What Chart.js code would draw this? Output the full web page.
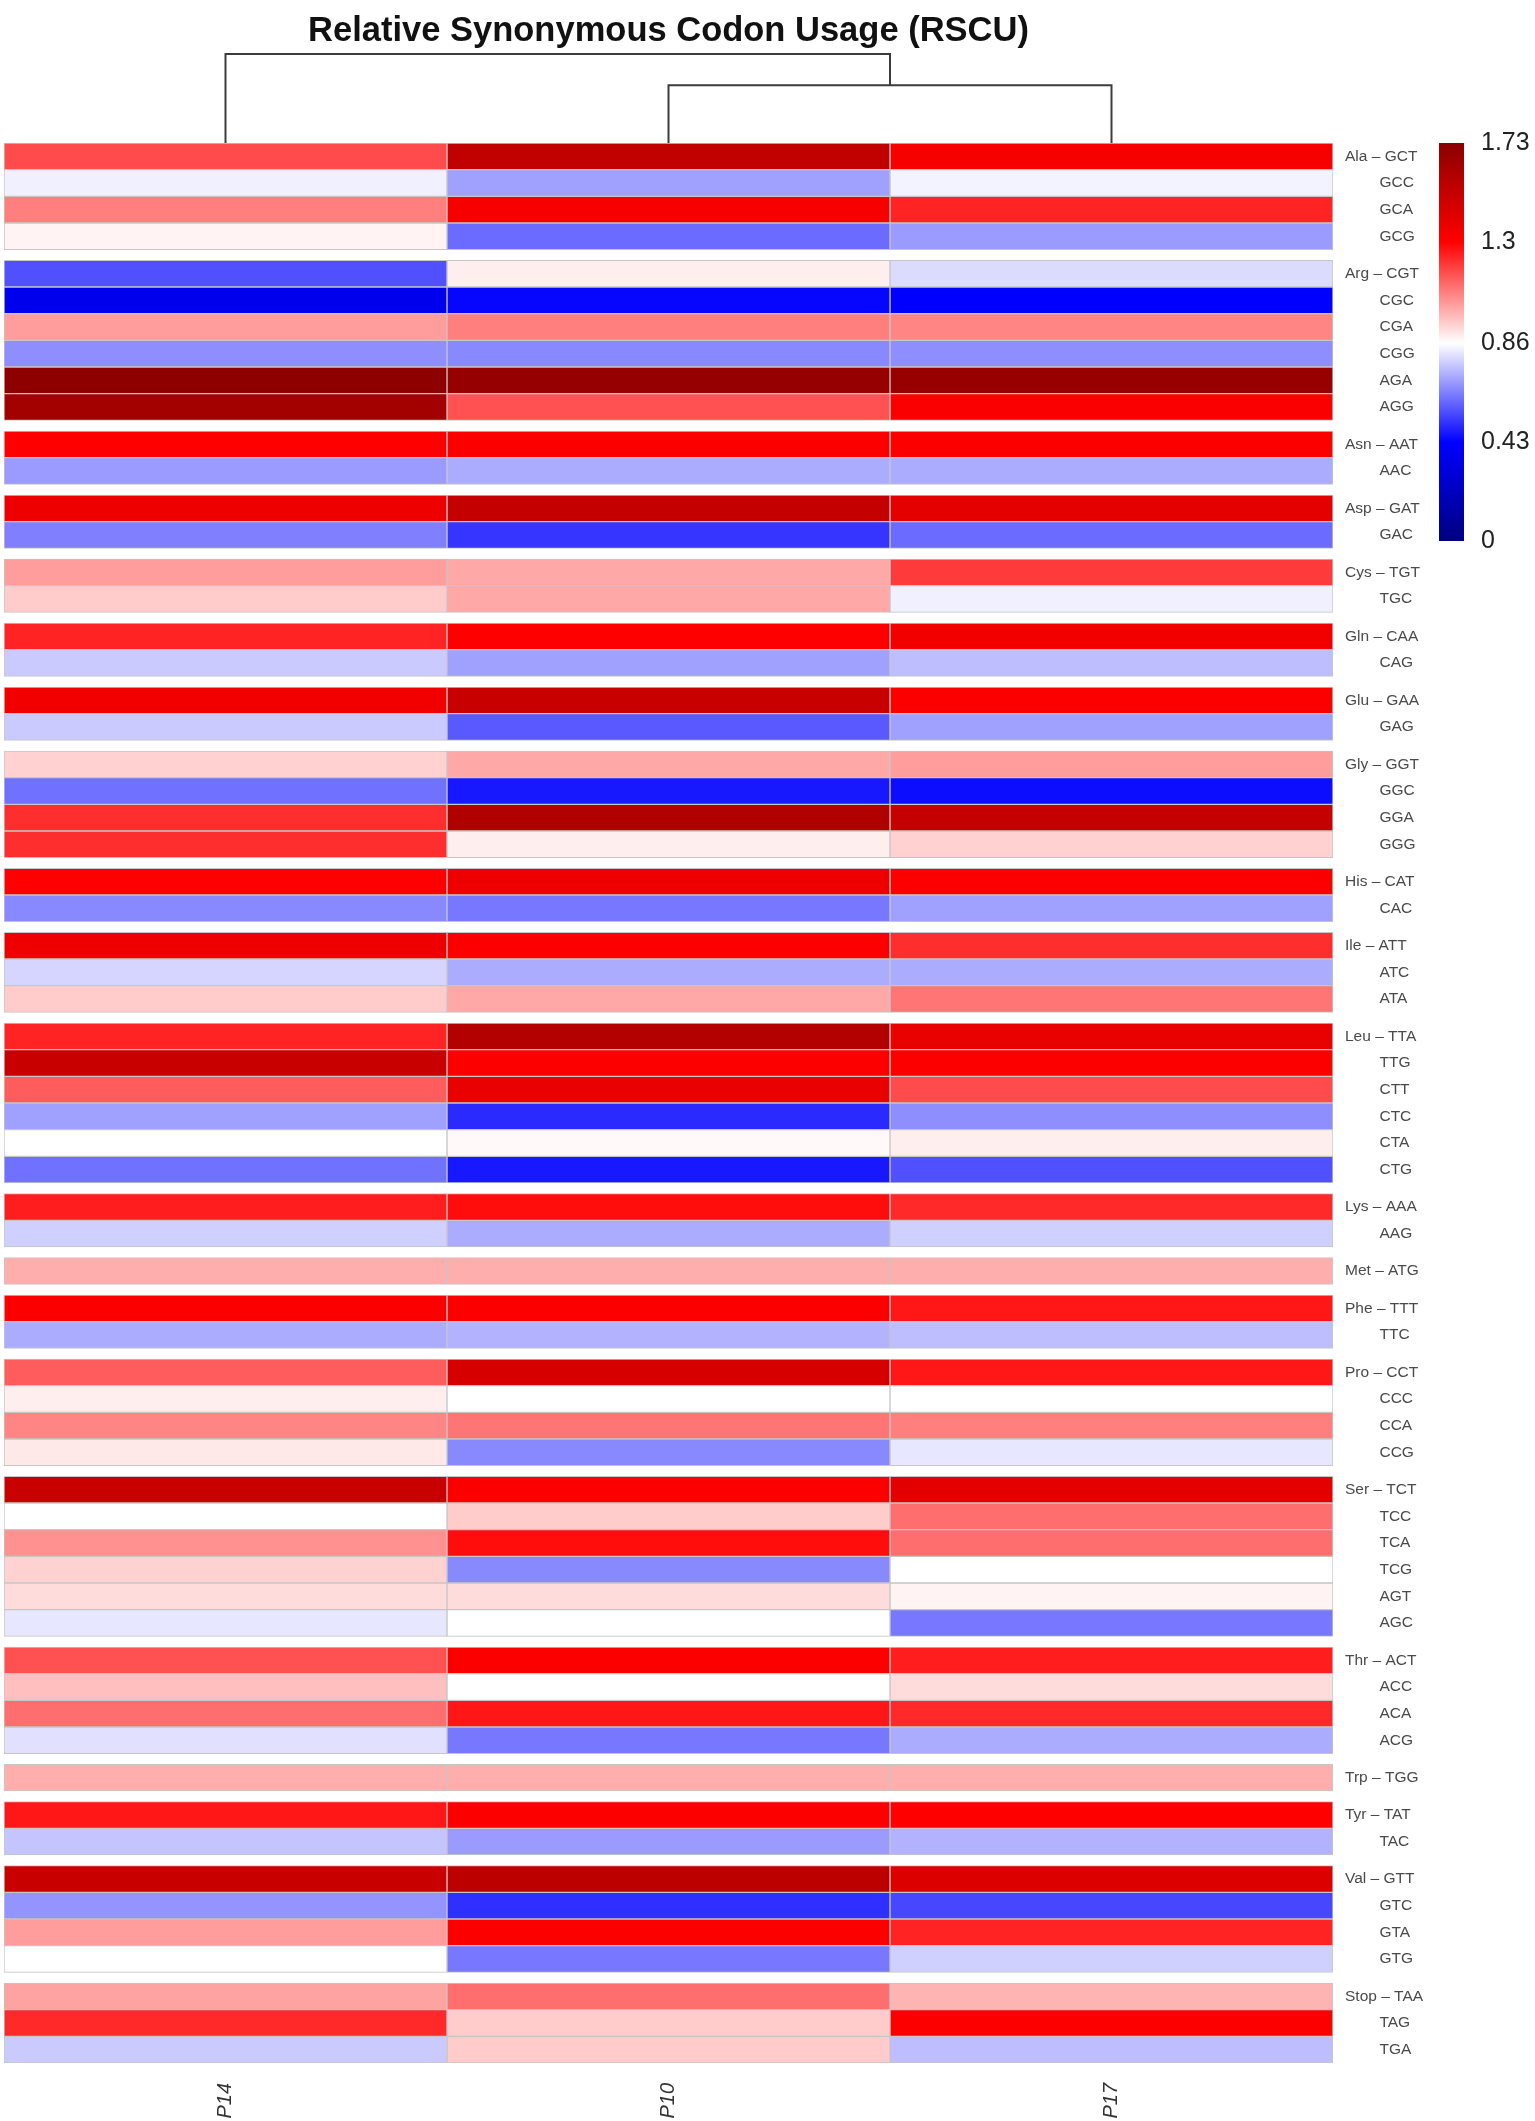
<!DOCTYPE html>
<html>
<head>
<meta charset="utf-8">
<script src="https://cdn.jsdelivr.net/npm/chart.js@4.4.1/dist/chart.umd.min.js"></script>
<style>
  html, body { margin: 0; padding: 0; background: #fff; }
  #wrap { position: relative; width: 1535px; height: 2121px; }
  #main { position: absolute; left: 0; top: 0; width: 1535px; height: 2121px; }
  #legend { position: absolute; left: 1430px; top: 120px; width: 105px; height: 445px; }
</style>
</head>
<body>
<div id="wrap">
  <div id="main"><canvas id="heat"></canvas></div>
  <div id="legend"><canvas id="scale"></canvas></div>
</div>
<script>
// columns of the heatmap (order after clustering)
const samples = ['P14', 'P10', 'P17'];

const aminoAcids = ['Ala', 'Arg', 'Asn', 'Asp', 'Cys', 'Gln', 'Glu', 'Gly', 'His', 'Ile', 'Leu',
  'Lys', 'Met', 'Phe', 'Pro', 'Ser', 'Thr', 'Trp', 'Tyr', 'Val', 'Stop'];
const codons = [
  ['GCT', 'GCC', 'GCA', 'GCG'],
  ['CGT', 'CGC', 'CGA', 'CGG', 'AGA', 'AGG'],
  ['AAT', 'AAC'],
  ['GAT', 'GAC'],
  ['TGT', 'TGC'],
  ['CAA', 'CAG'],
  ['GAA', 'GAG'],
  ['GGT', 'GGC', 'GGA', 'GGG'],
  ['CAT', 'CAC'],
  ['ATT', 'ATC', 'ATA'],
  ['TTA', 'TTG', 'CTT', 'CTC', 'CTA', 'CTG'],
  ['AAA', 'AAG'],
  ['ATG'],
  ['TTT', 'TTC'],
  ['CCT', 'CCC', 'CCA', 'CCG'],
  ['TCT', 'TCC', 'TCA', 'TCG', 'AGT', 'AGC'],
  ['ACT', 'ACC', 'ACA', 'ACG'],
  ['TGG'],
  ['TAT', 'TAC'],
  ['GTT', 'GTC', 'GTA', 'GTG'],
  ['TAA', 'TAG', 'TGA']
];

// RSCU values, one per codon, same order as above
const rscuP14 = [1.17, 0.835, 1.08, 0.88, 0.565, 0.37, 1.03, 0.67, 1.72, 1.64, 1.30, 0.69, 1.36, 0.645,
  1.03, 0.95, 1.24, 0.77, 1.35, 0.77, 0.94, 0.62, 1.22, 1.22, 1.30, 0.66, 1.36, 0.79, 0.95,
  1.24, 1.50, 1.14, 0.70, 0.86, 0.62, 1.25, 0.78, 1.00, 1.31, 0.72, 1.14, 0.89, 1.07, 0.90,
  1.50, 0.86, 1.05, 0.94, 0.92, 0.82, 1.16, 0.97, 1.11, 0.81, 1.00, 1.26, 0.76, 1.50, 0.68,
  1.03, 0.86, 1.02, 1.23, 0.77];
const rscuP10 = [1.53, 0.70, 1.33, 0.61, 0.89, 0.44, 1.08, 0.66, 1.69, 1.16, 1.31, 0.72, 1.52, 0.52,
  1.01, 1.01, 1.30, 0.70, 1.50, 0.58, 1.01, 0.47, 1.59, 0.89, 1.36, 0.63, 1.31, 0.72, 1.01,
  1.58, 1.31, 1.38, 0.50, 0.87, 0.47, 1.28, 0.72, 1.00, 1.31, 0.73, 1.45, 0.86, 1.10, 0.66,
  1.31, 0.95, 1.28, 0.66, 0.92, 0.86, 1.31, 0.86, 1.26, 0.63, 1.00, 1.31, 0.69, 1.55, 0.51,
  1.31, 0.63, 1.11, 0.95, 0.95];
const rscuP17 = [1.33, 0.84, 1.24, 0.69, 0.80, 0.43, 1.07, 0.67, 1.68, 1.32, 1.31, 0.72, 1.40, 0.61,
  1.20, 0.835, 1.35, 0.75, 1.31, 0.70, 1.03, 0.45, 1.52, 0.94, 1.31, 0.70, 1.22, 0.72, 1.10,
  1.38, 1.31, 1.17, 0.67, 0.89, 0.565, 1.23, 0.78, 1.00, 1.26, 0.75, 1.26, 0.86, 1.08, 0.82,
  1.40, 1.11, 1.11, 0.86, 0.88, 0.63, 1.25, 0.92, 1.23, 0.72, 1.00, 1.30, 0.73, 1.43, 0.55,
  1.24, 0.78, 0.99, 1.31, 0.75];

// colour key
const legendTicks = [0, 0.43, 0.86, 1.3, 1.73];
const palette = [[0, 0, 128], [0, 0, 255], [255, 255, 255], [255, 0, 0], [139, 0, 0]];

// column dendrogram, hclust style (negative = leaf)
const mergeSteps = [[-2, -3], [-1, 1]];
const mergeHeights = [0.65, 1];

const GROUP_GAP = 0.4; // extra space between amino acid blocks, in rows
const FONT = "'Liberation Sans', Arial, sans-serif";

function rscuColor(v) {
  const lo = legendTicks[0], hi = legendTicks[legendTicks.length - 1];
  v = Math.max(lo, Math.min(hi, v));
  let i = 0;
  while (i < legendTicks.length - 2 && v > legendTicks[i + 1]) i++;
  const t = (v - legendTicks[i]) / (legendTicks[i + 1] - legendTicks[i]);
  const a = palette[i], b = palette[i + 1];
  const c = a.map((x, k) => Math.round(x + (b[k] - x) * t));
  return 'rgb(' + c.join(',') + ')';
}

// row positions and labels
const rowPos = [];
const rowLabels = [];
codons.forEach(function (group, gi) {
  group.forEach(function (codon, k) {
    rowPos.push(rowPos.length + gi * GROUP_GAP);
    rowLabels.push(k === 0 ? aminoAcids[gi] + ' \u2013 ' + codon : ' '.repeat(8) + codon);
  });
});
const yMax = rowPos[rowPos.length - 1] + 0.5;

const series = [rscuP14, rscuP10, rscuP17];

const dendroPlugin = {
  id: 'dendro',
  afterDraw(chart) {
    const x = chart.scales.x, top = chart.chartArea.top, span = 89;
    const ctx = chart.ctx, nodes = {};
    const pos = m => m < 0 ? { x: x.getPixelForValue(-m - 1 + 0.5), y: top } : nodes[m];
    ctx.save();
    ctx.strokeStyle = '#3c3c3c';
    ctx.lineWidth = 2;
    mergeSteps.forEach(function (m, i) {
      const a = pos(m[0]), b = pos(m[1]);
      const y = top - mergeHeights[i] * span;
      ctx.beginPath();
      ctx.moveTo(a.x, a.y);
      ctx.lineTo(a.x, y);
      ctx.lineTo(b.x, y);
      ctx.lineTo(b.x, b.y);
      ctx.stroke();
      nodes[i + 1] = { x: (a.x + b.x) / 2, y: y };
    });
    ctx.restore();
  }
};

new Chart(document.getElementById('heat'), {
  type: 'bar',
  data: {
    datasets: series.map(function (vals, c) {
      return {
        label: samples[c],
        data: vals.map((v, i) => ({ x: [c, c + 1], y: rowPos[i], v: v })),
        backgroundColor: ctx => ctx.raw ? rscuColor(ctx.raw.v) : '#fff',
        borderColor: '#c6c6c6',
        borderWidth: 1,
        borderSkipped: false,
        barPercentage: 1,
        categoryPercentage: 1,
        grouped: false
      };
    })
  },
  options: {
    indexAxis: 'y',
    responsive: true,
    maintainAspectRatio: false,
    animation: false,
    layout: { padding: { left: 4, right: 0, top: 0, bottom: 0 } },
    plugins: {
      legend: { display: false },
      tooltip: { enabled: false },
      title: {
        display: true,
        fullSize: false,
        text: 'Relative Synonymous Codon Usage (RSCU)',
        color: '#111',
        font: { family: FONT, size: 34.5, weight: 'bold', lineHeight: 1.2 },
        padding: { top: 11, bottom: 90.6 }
      }
    },
    scales: {
      x: {
        type: 'linear',
        position: 'bottom',
        min: 0,
        max: samples.length,
        offset: false,
        grid: { display: false, drawTicks: false },
        border: { display: false },
        afterBuildTicks: s => { s.ticks = samples.map((n, i) => ({ value: i + 0.5 })); },
        afterFit: s => { s.height = 58; },
        ticks: {
          autoSkip: false,
          minRotation: 90,
          maxRotation: 90,
          padding: 20,
          color: '#333',
          font: { family: FONT, size: 20, style: 'italic' },
          callback: v => samples[Math.floor(v)]
        }
      },
      y: {
        type: 'linear',
        position: 'right',
        reverse: true,
        min: -0.5,
        max: yMax,
        offset: false,
        grid: { display: false, drawTicks: false },
        border: { display: false },
        afterBuildTicks: s => { s.ticks = rowPos.map(v => ({ value: v })); },
        afterFit: s => { s.width = 202; s.paddingTop = 0; s.paddingBottom = 0; },
        ticks: {
          autoSkip: false,
          padding: 12,
          crossAlign: 'near',
          color: '#4a4a4a',
          font: { family: FONT, size: 15.5 },
          callback: (v, i) => rowLabels[i]
        }
      }
    }
  },
  plugins: [dendroPlugin]
});

// colour key
const keyMin = legendTicks[0], keyMax = legendTicks[legendTicks.length - 1];
new Chart(document.getElementById('scale'), {
  type: 'bar',
  data: {
    labels: ['RSCU'],
    datasets: [{
      data: [[keyMin, keyMax]],
      backgroundColor: function (ctx) {
        const chart = ctx.chart, y = chart.scales.y;
        if (!chart.chartArea || !y) return '#fff';
        const g = chart.ctx.createLinearGradient(0, y.getPixelForValue(keyMin), 0, y.getPixelForValue(keyMax));
        legendTicks.forEach((t, i) => g.addColorStop((t - keyMin) / (keyMax - keyMin), 'rgb(' + palette[i].join(',') + ')'));
        return g;
      },
      borderWidth: 0,
      barPercentage: 1,
      categoryPercentage: 1
    }]
  },
  options: {
    responsive: true,
    maintainAspectRatio: false,
    animation: false,
    layout: { padding: { left: 9, top: 23, bottom: 24, right: 0 } },
    plugins: { legend: { display: false }, tooltip: { enabled: false } },
    scales: {
      x: { display: false },
      y: {
        position: 'right',
        min: keyMin,
        max: keyMax,
        grid: { display: false, drawTicks: false },
        border: { display: false },
        afterBuildTicks: s => { s.ticks = legendTicks.map(v => ({ value: v })); },
        afterFit: s => { s.width = 71; s.paddingTop = 0; s.paddingBottom = 0; },
        ticks: {
          padding: 17,
          color: '#222',
          font: { family: FONT, size: 25 },
          callback: v => String(v)
        }
      }
    }
  }
});
</script>
</body>
</html>
